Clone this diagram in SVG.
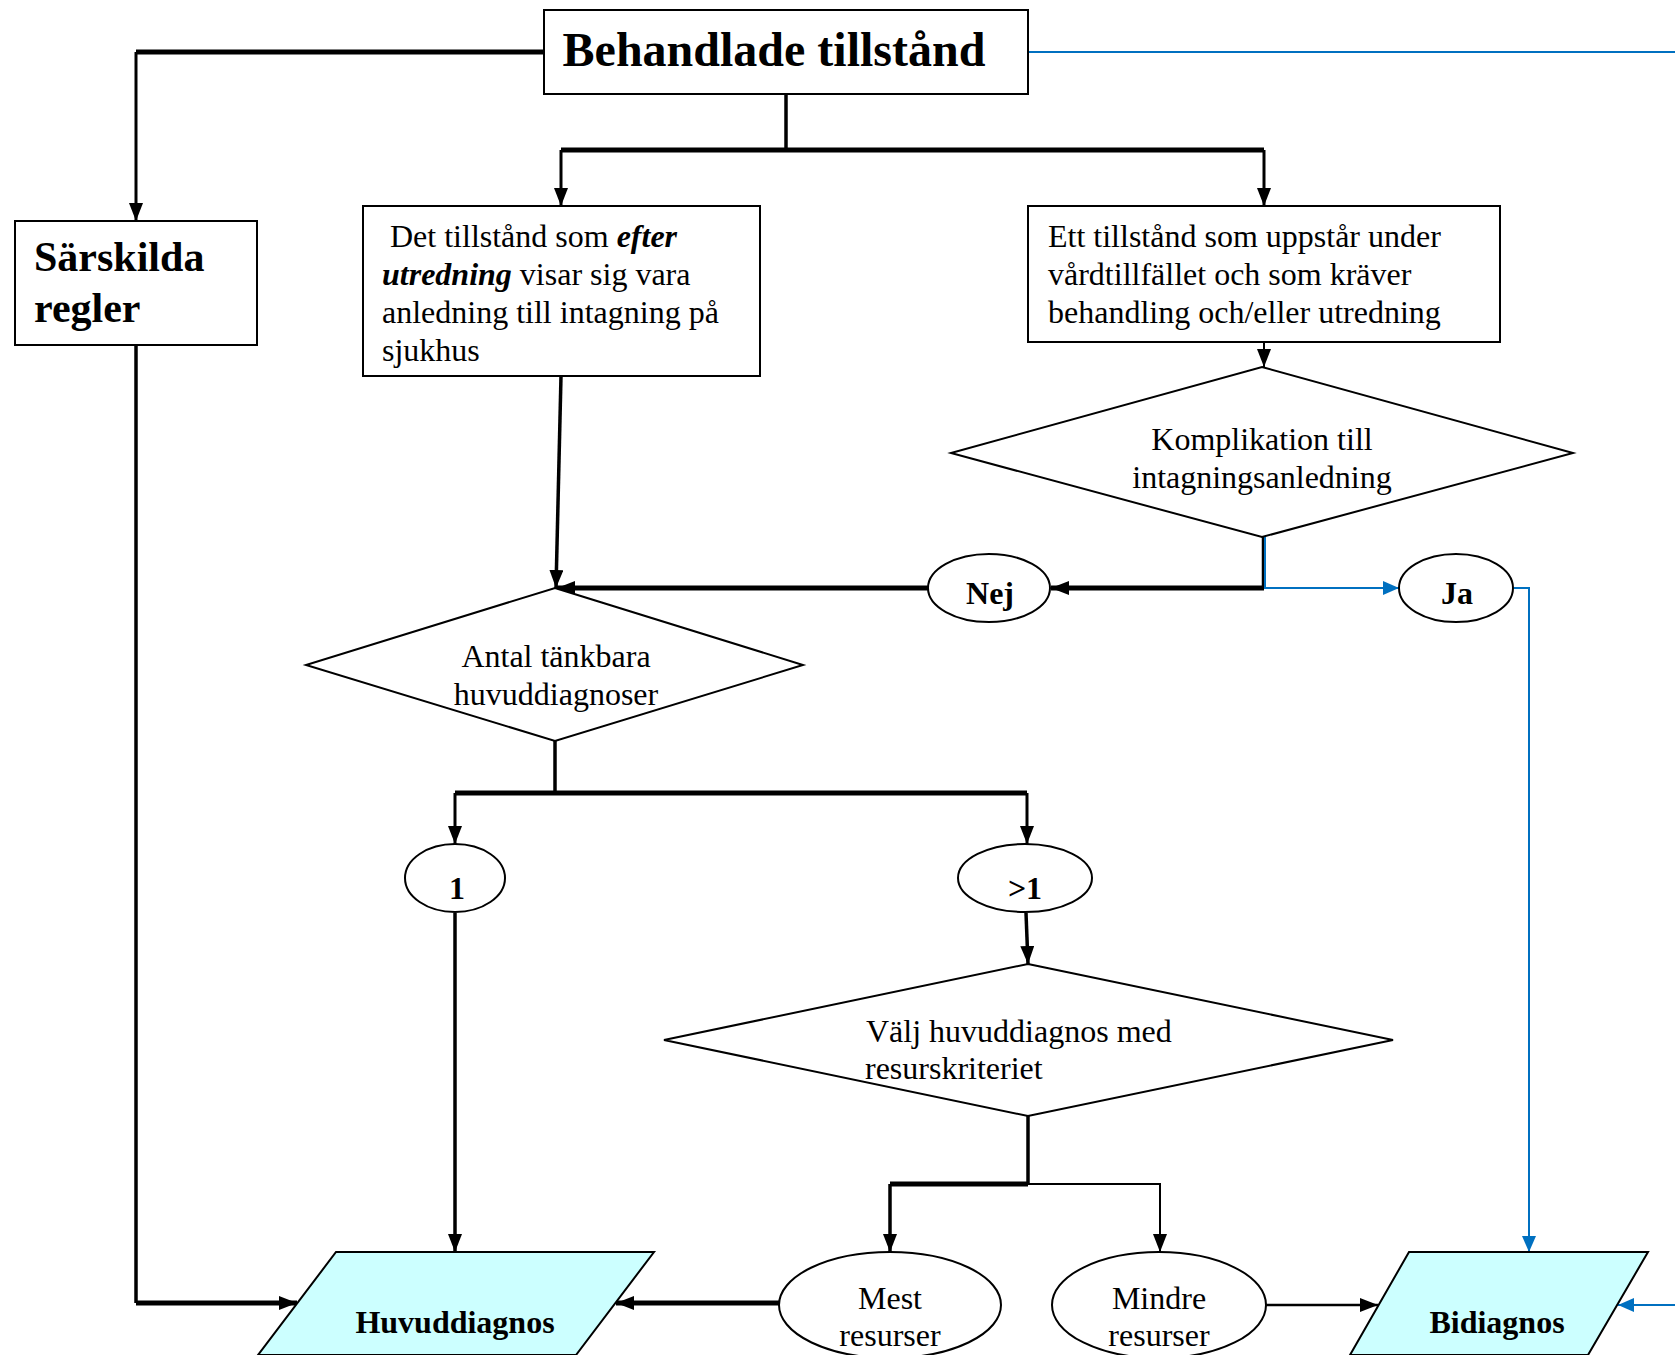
<svg xmlns="http://www.w3.org/2000/svg" width="1675" height="1355" viewBox="0 0 1675 1355">
<style>
.box{fill:#fff;stroke:#000;stroke-width:2}
.io{fill:#ccffff;stroke:#000;stroke-width:2}
.t{font-family:"Liberation Serif","Times New Roman",serif;font-size:32px;fill:#000}
.b{font-weight:bold}
.c{text-anchor:middle}
.big{font-size:48px}
.mid{font-size:42px}
.k{fill:none;stroke:#000}
.bl{fill:none;stroke:#0070c0;stroke-width:2}
</style>
<defs>
<marker id="ak" markerUnits="userSpaceOnUse" markerWidth="18" markerHeight="14" refX="18" refY="7" orient="auto"><path d="M0,0 L18,7 L0,14 z" fill="#000"/></marker>
<marker id="ab" markerUnits="userSpaceOnUse" markerWidth="16" markerHeight="14" refX="16" refY="7" orient="auto"><path d="M0,0 L16,7 L0,14 z" fill="#0070c0"/></marker>
</defs>
<rect width="1675" height="1355" fill="#fff"/>
<g id="connectors">
<path class="k" stroke-width="5" d="M544,52 H136"/>
<path class="k" stroke-width="3" d="M136,52 V221" marker-end="url(#ak)"/>
<path class="k" stroke-width="3.5" d="M786,94 V150"/>
<path class="k" stroke-width="5" d="M561,150 H1264"/>
<path class="k" stroke-width="3" d="M561,150 V206" marker-end="url(#ak)"/>
<path class="k" stroke-width="3" d="M1264,150 V206" marker-end="url(#ak)"/>
<path class="bl" d="M1028,52 H1675"/>
<path class="k" stroke-width="3.5" d="M136,345 V1303"/>
<path class="k" stroke-width="5" d="M136,1303 H297" marker-end="url(#ak)"/>
<path class="k" stroke-width="2" d="M1264,342 V367" marker-end="url(#ak)"/>
<path class="k" stroke-width="3.5" d="M561,376 L556,588" marker-end="url(#ak)"/>
<path class="k" stroke-width="2.5" d="M1263,537 V588"/>
<path class="bl" d="M1265,537 V588"/>
<path class="k" stroke-width="5" d="M1264,588 H1051" marker-end="url(#ak)"/>
<path class="bl" d="M1264,588 H1399" marker-end="url(#ab)"/>
<path class="k" stroke-width="5" d="M928,588 H557" marker-end="url(#ak)"/>
<path class="bl" d="M1514,588 H1529 V1252" marker-end="url(#ab)"/>
<path class="k" stroke-width="3.5" d="M555,741 V793"/>
<path class="k" stroke-width="5" d="M455,793 H1027"/>
<path class="k" stroke-width="3" d="M455,793 V844" marker-end="url(#ak)"/>
<path class="k" stroke-width="3" d="M1027,793 V844" marker-end="url(#ak)"/>
<path class="k" stroke-width="3.5" d="M455,913 V1252" marker-end="url(#ak)"/>
<path class="k" stroke-width="3.5" d="M1026,913 L1028,964" marker-end="url(#ak)"/>
<path class="k" stroke-width="3.5" d="M1028,1116 V1184"/>
<path class="k" stroke-width="5" d="M1028,1184 H890"/>
<path class="k" stroke-width="3.5" d="M890,1184 V1252" marker-end="url(#ak)"/>
<path class="k" stroke-width="2" d="M1028,1184 H1160 V1252" marker-end="url(#ak)"/>
<path class="k" stroke-width="5" d="M779,1303 H616" marker-end="url(#ak)"/>
<path class="k" stroke-width="2.5" d="M1266,1305 H1378" marker-end="url(#ak)"/>
<path class="bl" d="M1675,1305 H1618" marker-end="url(#ab)"/>
</g>
<g id="behandlade">
<rect class="box" x="544" y="10" width="484" height="84"/>
<text class="t b c big" x="774" y="66">Behandlade tillstånd</text>
</g>
<g id="sarskilda">
<rect class="box" x="15" y="221" width="242" height="124"/>
<text class="t b mid" x="34" y="271">Särskilda</text>
<text class="t b mid" x="34" y="322">regler</text>
</g>
<g id="det-tillstand">
<rect class="box" x="363" y="206" width="397" height="170"/>
<text class="t" x="382" y="247" xml:space="preserve"> Det tillstånd som <tspan font-weight="bold" font-style="italic">efter</tspan></text>
<text class="t" x="382" y="285"><tspan font-weight="bold" font-style="italic">utredning</tspan> visar sig vara</text>
<text class="t" x="382" y="323">anledning till intagning på</text>
<text class="t" x="382" y="361">sjukhus</text>
</g>
<g id="ett-tillstand">
<rect class="box" x="1028" y="206" width="472" height="136"/>
<text class="t" x="1048" y="247">Ett tillstånd som uppstår under</text>
<text class="t" x="1048" y="285">vårdtillfället och som kräver</text>
<text class="t" x="1048" y="323">behandling och/eller utredning</text>
</g>
<g id="komplikation">
<polygon class="box" points="1262,367 1573,453 1262,537 951,453"/>
<text class="t c" x="1262" y="450">Komplikation till</text>
<text class="t c" x="1262" y="488">intagningsanledning</text>
</g>
<g id="nej">
<ellipse class="box" cx="989" cy="588" rx="61" ry="34"/>
<text class="t b c" x="990" y="604">Nej</text>
</g>
<g id="ja">
<ellipse class="box" cx="1456" cy="588" rx="57" ry="34"/>
<text class="t b c" x="1457" y="604">Ja</text>
</g>
<g id="antal">
<polygon class="box" points="555,588 803,665 555,741 306,665"/>
<text class="t c" x="556" y="667">Antal tänkbara</text>
<text class="t c" x="556" y="705">huvuddiagnoser</text>
</g>
<g id="ett">
<ellipse class="box" cx="455" cy="878" rx="50" ry="34"/>
<text class="t b c" x="457" y="899">1</text>
</g>
<g id="fler">
<ellipse class="box" cx="1025" cy="878" rx="67" ry="34"/>
<text class="t b c" x="1025" y="899">&gt;1</text>
</g>
<g id="valj">
<polygon class="box" points="1028,964 1393,1040 1028,1116 664,1040"/>
<text class="t" x="866" y="1042">Välj huvuddiagnos med</text>
<text class="t" x="865" y="1079">resurskriteriet</text>
</g>
<g id="mest">
<ellipse class="box" cx="890" cy="1305" rx="111" ry="53"/>
<text class="t c" x="890" y="1309">Mest</text>
<text class="t c" x="890" y="1346">resurser</text>
</g>
<g id="mindre">
<ellipse class="box" cx="1159" cy="1305" rx="107" ry="53"/>
<text class="t c" x="1159" y="1309">Mindre</text>
<text class="t c" x="1159" y="1346">resurser</text>
</g>
<g id="huvuddiagnos">
<polygon class="io" points="336,1252 654,1252 576,1355 258,1355"/>
<text class="t b c" x="455" y="1333">Huvuddiagnos</text>
</g>
<g id="bidiagnos">
<polygon class="io" points="1409,1252 1648,1252 1588,1355 1350,1355"/>
<text class="t b c" x="1497" y="1333">Bidiagnos</text>
</g>
</svg>
